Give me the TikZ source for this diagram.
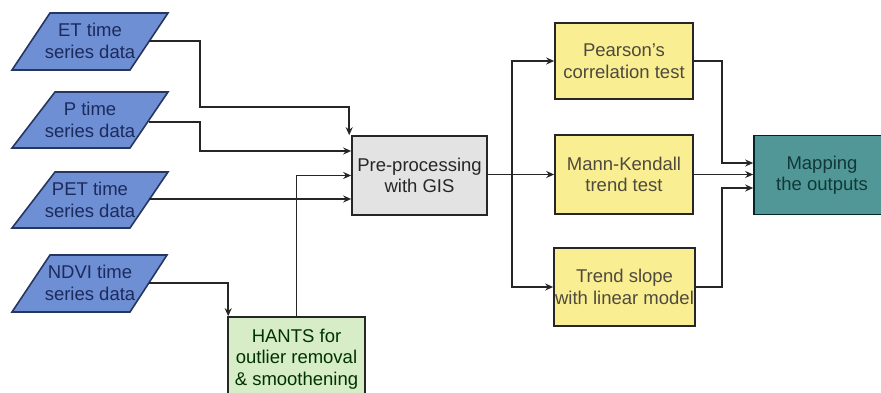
\documentclass[tikz,border=0pt]{standalone}
\usepackage{fontspec}
\setmainfont{Liberation Sans}
\usetikzlibrary{arrows.meta}
\definecolor{parafill}{HTML}{6E8FD4}
\definecolor{paradraw}{HTML}{27365F}
\definecolor{paratext}{HTML}{1C2A5C}
\definecolor{prefill}{HTML}{E3E3E3}
\definecolor{hantsfill}{HTML}{D6EDC8}
\definecolor{yelfill}{HTML}{FAEE92}
\definecolor{mapfill}{HTML}{519797}
\definecolor{maptext}{HTML}{113838}
\definecolor{linecol}{HTML}{262626}
\begin{document}
\begin{tikzpicture}[x=1pt,y=-1pt,
  txt/.style={font=\fontsize{18.5}{21.5}\selectfont, align=center},
  para/.style={fill=parafill, draw=paradraw, line width=1.6pt},
  paratxt/.style={txt, text=paratext},
  boxstyle/.style={txt, draw=linecol, line width=1.6pt, inner sep=0pt},
  prebox/.style={boxstyle, fill=prefill, text=black!85},
  hantsbox/.style={boxstyle, fill=hantsfill, text=black!80!green},
  yelbox/.style={boxstyle, fill=yelfill, text=black!80!yellow},
  mapbox/.style={boxstyle, fill=mapfill, text=maptext, draw=black!70!teal},
  conn/.style={draw=linecol, line width=1.8pt},
  arr/.style={conn, -{Stealth[length=8pt,width=7pt]}}]
\useasboundingbox (0,0) rectangle (881,393);
\clip (0,0) rectangle (881,393);
\fill[white] (0,0) rectangle (881,393);

% input parallelograms
\draw[para] (50,13) -- (168,13) -- (130,70) -- (12,70) -- cycle;
\node[paratxt] (et) at (90,41) {ET time\\series data};
\coordinate (etR) at (149,41);

\draw[para] (55,92) -- (168,92) -- (130,148) -- (12,148) -- cycle;
\node[paratxt] (p) at (90,120) {P time\\series data};
\coordinate (pR) at (149,122);

\draw[para] (55,172) -- (168,172) -- (130,228) -- (12,228) -- cycle;
\node[paratxt] (pet) at (90,200) {PET time\\series data};
\coordinate (petR) at (149,199);

\draw[para] (50,255) -- (167,255) -- (130,312) -- (12,312) -- cycle;
\node[paratxt] (ndvi) at (90,283) {NDVI time\\series data};
\coordinate (ndviR) at (149,283);

% process boxes
\node[prebox, minimum width=135pt, minimum height=79pt] (pre) at (419.5,175.5) {Pre-processing\\with GIS};
\node[hantsbox, minimum width=137pt, minimum height=84pt] (hants) at (296.5,359) {HANTS for\\outlier removal\\\& smoothening};

\node[yelbox, minimum width=138pt, minimum height=76pt] (pear) at (624,61) {Pearson’s\\correlation test};
\node[yelbox, minimum width=138pt, minimum height=79pt] (mk) at (624,174.5) {Mann-Kendall\\trend test};
\node[yelbox, minimum width=141pt, minimum height=78pt] (trend) at (624.5,287) {Trend slope\\with linear model};

\node[mapbox, minimum width=136pt, minimum height=79pt] (map) at (822,175) {Mapping\\the outputs};

% connectors inputs
\coordinate (e1) at (200,107);
\draw[arr] (etR) -| (e1) -| ([xshift=-2pt]pre.north west);
\coordinate (p1) at (200,151);
\draw[arr] (pR) -| (p1) -- (p1 -| pre.west);
\draw[arr] (petR) -- (petR -| pre.west);
\draw[arr] (hants.north) |- (pre.west);
\draw[arr] (ndviR) -| ([xshift=1pt]hants.north west);

% preprocessing to tests
\coordinate (j) at (512,174.5);
\draw[conn] (pre.east |- j) -- (j);
\draw[arr] (j) |- (pear.west);
\draw[arr] (j) -- (mk.west);
\draw[arr] (j) |- (trend.west);

% tests to mapping
\coordinate (q1) at (722,163);
\draw[arr] (pear.east) -| (q1) -- (q1 -| map.west);
\draw[arr] (mk.east) -- (mk.east -| map.west);
\coordinate (q2) at (722,188);
\draw[arr] (trend.east) -| (q2) -- (q2 -| map.west);
\end{tikzpicture}
\end{document}
